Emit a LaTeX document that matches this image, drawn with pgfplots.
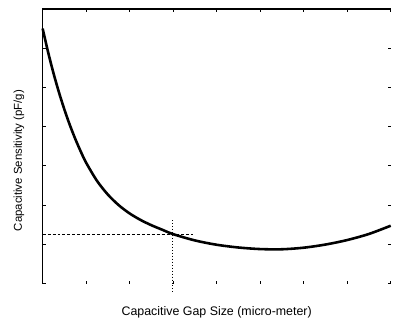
\documentclass[border=0pt]{standalone}
\usepackage{pgfplots}
\pgfplotsset{compat=1.18}
\usepackage{fontspec}
\setmainfont{Liberation Sans}
\begin{document}
\begin{tikzpicture}
\begin{axis}[
  scale only axis,
  width=351pt, height=277pt,
  xmin=0, xmax=8, ymin=0, ymax=7,
  xtick={0,1,...,8}, ytick={0,1,...,7},
  xticklabels={}, yticklabels={},
  tick style={black, line width=1pt},
  major tick length=3pt,
  tick align=inside,
  axis line style={draw=none},
  clip=false,
  xlabel={\fontsize{12.5}{14}\selectfont Capacitive Gap Size (micro-meter)},
  ylabel={\fontsize{11.5}{13}\selectfont Capacitive Sensitivity (pF/g)},
  every axis x label/.style={at={(axis description cs:0.5,0)}, anchor=base, yshift=-32pt},
  every axis y label/.style={at={(axis description cs:-0.068,0.448)}, rotate=90, anchor=center},
]
\addplot[black, line width=2.6pt, smooth, tension=0.5] coordinates {
(0,6.50) (0.125,5.90) (0.25,5.36) (0.375,4.874) (0.5,4.436) (0.625,4.042) (0.75,3.688) (0.875,3.369) (1,3.08)
(1.25,2.6175) (1.5,2.2675) (1.75,1.9975) (2,1.7875) (2.25,1.6225) (2.5,1.4875) (2.75,1.3725) (3,1.26)
(3.5,1.10) (4,0.99) (4.5,0.92) (5,0.88) (5.5,0.875) (6,0.915) (6.5,0.995) (7,1.11) (7.5,1.265) (8,1.475)
};
\addplot[black, line width=0.9pt, dash pattern=on 3pt off 2pt] coordinates {(0,1.24) (3.46,1.24)};
\addplot[black, line width=0.9pt, dash pattern=on 1pt off 2pt] coordinates {(2.98,1.62) (2.98,-0.25)};
\draw[black, line width=1.5pt] (rel axis cs:0,0) -- (rel axis cs:0,1) -- (rel axis cs:1,1);
\end{axis}
\path[use as bounding box] ([xshift=-43pt,yshift=-34pt]current axis.south west) rectangle ([yshift=9pt]current axis.north east);
\end{tikzpicture}
\end{document}
